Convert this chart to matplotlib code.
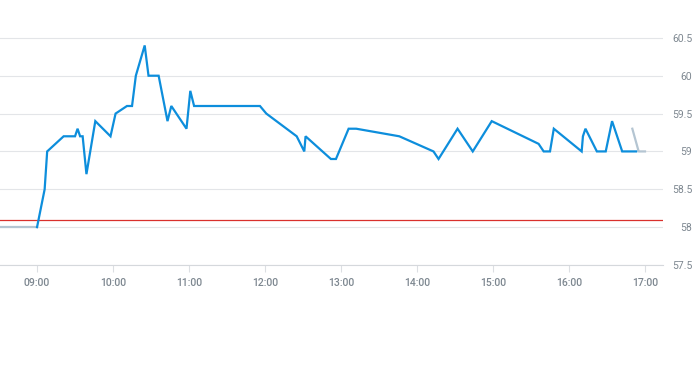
import pandas as pd
import matplotlib
matplotlib.use("Agg")
import matplotlib.pyplot as plt
import matplotlib.dates as mdates

day = "2024-01-02 "

pre_times = ["08:30", "09:00"]
pre_prices = [58.0, 58.0]

times = ["09:00", "09:06", "09:08", "09:21", "09:30", "09:32", "09:34", "09:36",
         "09:39", "09:46", "09:58", "10:02", "10:11", "10:15", "10:18", "10:25",
         "10:28", "10:36", "10:43", "10:46", "10:58", "11:01", "11:04", "11:56",
         "12:01", "12:25", "12:31", "12:32", "12:52", "12:56", "13:06", "13:12",
         "13:46", "14:13", "14:17", "14:32", "14:44", "14:59", "15:36", "15:40",
         "15:45", "15:48", "16:10", "16:11", "16:13", "16:22", "16:29", "16:34",
         "16:42", "16:53"]
prices = [58.0, 58.5, 59.0, 59.2, 59.2, 59.3, 59.2, 59.2,
          58.7, 59.4, 59.2, 59.5, 59.6, 59.6, 60.0, 60.4,
          60.0, 60.0, 59.4, 59.6, 59.3, 59.8, 59.6, 59.6,
          59.5, 59.2, 59.0, 59.2, 58.9, 58.9, 59.3, 59.3,
          59.2, 59.0, 58.9, 59.3, 59.0, 59.4, 59.1, 59.0,
          59.0, 59.3, 59.0, 59.2, 59.3, 59.0, 59.0, 59.4,
          59.0, 59.0]

post_times = ["16:50", "16:55", "17:00"]
post_prices = [59.3, 59.0, 59.0]

prev_close = 58.1

y_ticks = [57.5, 58, 58.5, 59, 59.5, 60, 60.5]
y_labels = ["57.5", "58", "58.5", "59", "59.5", "60", "60.5"]
x_ticks = ["09:00", "10:00", "11:00", "12:00", "13:00", "14:00", "15:00", "16:00", "17:00"]


def to_dt(lst):
    return pd.to_datetime([day + t for t in lst])


plt.rcParams["font.family"] = ["Roboto", "DejaVu Sans"]

fig = plt.figure(figsize=(6.93, 3.65), dpi=100)
ax = fig.add_axes([0, 100 / 365, 663 / 693, 265 / 365])

ax.axhline(prev_close, color="#d9302c", linewidth=0.9, zorder=2)
ax.plot(to_dt(pre_times), pre_prices, color="#b4c5d2", linewidth=1.6, zorder=3)
ax.plot(to_dt(post_times), post_prices, color="#b4c5d2", linewidth=1.6, zorder=3)
ax.plot(to_dt(times), prices, color="#0d8edc", linewidth=1.6, zorder=4,
        solid_joinstyle="miter")

ax.set_xlim(pd.Timestamp(day + "08:30:45"), pd.Timestamp(day + "17:14:13"))
ax.set_ylim(57.5, 61.0)

ax.set_yticks(y_ticks)
ax.set_yticklabels(y_labels)
ax.yaxis.tick_right()
ax.tick_params(axis="y", length=0, pad=21, labelsize=7.5, labelcolor="#7d8790")
for lab in ax.get_yticklabels():
    lab.set_horizontalalignment("right")

ax.set_xticks(to_dt(x_ticks))
ax.xaxis.set_major_formatter(mdates.DateFormatter("%H:%M"))
ax.tick_params(axis="x", length=5, width=0.8, color="#dcdfe3", pad=4,
               labelsize=7.5, labelcolor="#7d8790")
for lab in ax.get_xticklabels():
    lab.set_fontweight("medium")

ax.grid(axis="y", color="#e3e5e8", linewidth=0.8)
ax.set_axisbelow(True)
for side in ["top", "left", "right"]:
    ax.spines[side].set_visible(False)
ax.spines["bottom"].set_color("#d5d8dc")
ax.spines["bottom"].set_linewidth(0.8)

fig.savefig("out.png", dpi=100)
